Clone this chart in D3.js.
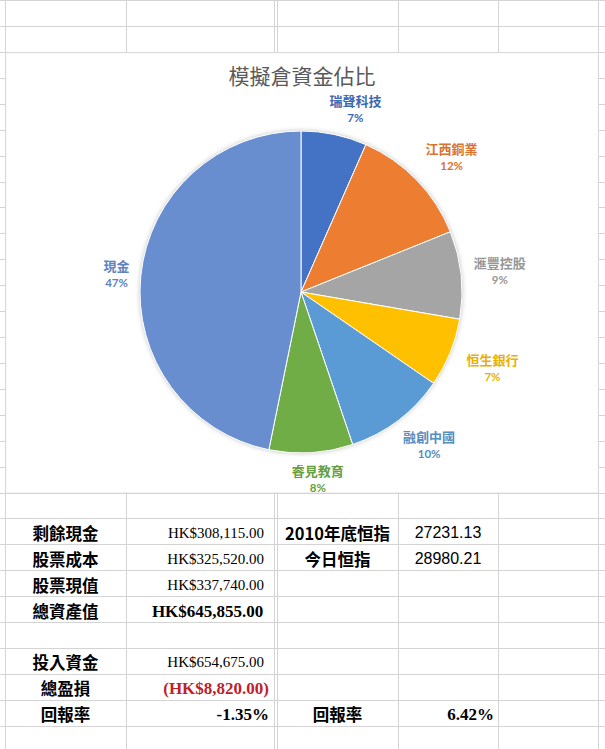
<!DOCTYPE html>
<html lang="zh-Hant">
  <head>
    <meta charset="UTF-8" />
    <title>模擬倉資金佔比</title>
    <script src="https://d3js.org/d3.v7.min.js"></script>
    <style>
      body {
        margin: 0;
        background: #fff;
      }
      svg {
        display: block;
      }
      .grid line {
        stroke: #d4d4d4;
        stroke-width: 1px;
        shape-rendering: crispEdges;
      }
      .cjk {
        font-family: "Noto Sans CJK TC", "Noto Sans CJK SC", sans-serif;
      }
      .serif {
        font-family: "Liberation Serif", "DejaVu Serif", serif;
      }
    </style>
  </head>
  <body>
    <svg id="sheet" width="605" height="749"></svg>

    <script>
      // ---------------------------------------------------------------
      // Datos / data
      // ---------------------------------------------------------------
      const categories = ["瑞聲科技", "江西銅業", "滙豐控股", "恒生銀行", "融創中國", "睿見教育", "現金"];
      const shares = [6.6, 12.3, 8.8, 6.9, 10.2, 8.4, 46.8];
      const sliceColors = ["#4472C4", "#ED7D31", "#A5A5A5", "#FFC000", "#5B9BD5", "#70AD47", "#698ED0"];

      // table below the chart (one entry per row)
      const leftLabels = ["剩餘現金", "股票成本", "股票現值", "總資產值", "", "投入資金", "總盈損", "回報率"];
      const leftValues = ["HK$308,115.00", "HK$325,520.00", "HK$337,740.00", "HK$645,855.00", "", "HK$654,675.00", "(HK$8,820.00)", "-1.35%"];
      const rightLabels = ["2010年底恒指", "今日恒指", "", "", "", "", "", "回報率"];
      const rightValues = ["27231.13", "28980.21", "", "", "", "", "", "6.42%"];

      // ---------------------------------------------------------------
      // Layout de la hoja / sheet layout
      // ---------------------------------------------------------------
      const svg = d3.select("#sheet");
      const width = +svg.attr("width");
      const height = +svg.attr("height");

      const colEdges = [5, 126, 274, 277, 398, 498, 598];
      const chartTop = 52;
      const chartBottom = 492.5;
      const rowH = (chartBottom - chartTop) / 17;

      const rowLines = d3.range(-2, 40).map((k) => chartTop + k * rowH).filter((y) => y > 0 && y < height);

      const grid = svg.append("g").attr("class", "grid");
      grid
        .selectAll(".h")
        .data(rowLines)
        .join("line")
        .attr("x1", 0)
        .attr("x2", width)
        .attr("y1", (d) => Math.round(d) + 0.5)
        .attr("y2", (d) => Math.round(d) + 0.5);
      grid
        .selectAll(".v")
        .data(colEdges)
        .join("line")
        .attr("x1", (d) => d + 0.5)
        .attr("x2", (d) => d + 0.5)
        .attr("y1", 0)
        .attr("y2", height);

      // chart area covers the cells
      svg
        .append("rect")
        .attr("x", colEdges[0] + 1)
        .attr("y", chartTop + 1)
        .attr("width", colEdges[6] - colEdges[0] - 1)
        .attr("height", chartBottom - chartTop - 1)
        .attr("fill", "#fff")
        .attr("stroke", "#e6e6e6")
        .attr("stroke-width", 0.5);

      // ---------------------------------------------------------------
      // Título / title
      // ---------------------------------------------------------------
      svg
        .append("text")
        .attr("class", "cjk")
        .attr("x", 302)
        .attr("y", 75)
        .attr("text-anchor", "middle")
        .attr("dominant-baseline", "central")
        .attr("font-size", 21)
        .attr("fill", "#595959")
        .text("模擬倉資金佔比");

      // ---------------------------------------------------------------
      // Gráfico de pastel / pie chart
      // ---------------------------------------------------------------
      const cx = 301;
      const cy = 292;
      const radius = 161;
      const total = d3.sum(shares);

      const defs = svg.append("defs");
      const shadow = defs.append("filter").attr("id", "pieShadow").attr("x", "-20%").attr("y", "-20%").attr("width", "140%").attr("height", "140%");
      shadow.append("feDropShadow").attr("dx", 0).attr("dy", 0).attr("stdDeviation", 2.5).attr("flood-color", "#000").attr("flood-opacity", 0.28);

      const pieData = d3
        .pie()
        .sort(null)
        .value((d) => d.share)(categories.map((c, i) => ({ category: c, share: shares[i], color: sliceColors[i] })));

      const arc = d3.arc().innerRadius(0).outerRadius(radius);

      const gPie = svg.append("g").attr("transform", `translate(${cx},${cy})`);

      gPie.append("circle").attr("r", radius).attr("fill", "#fff").attr("filter", "url(#pieShadow)");

      gPie
        .selectAll(".slice")
        .data(pieData)
        .join("path")
        .attr("class", "slice")
        .attr("d", arc)
        .attr("fill", (d) => d.data.color)
        .attr("stroke", "#fff")
        .attr("stroke-width", 1);

      // labels outside end, box touching a ring just beyond the pie
      function labelPos(d) {
        const mid = (d.startAngle + d.endAngle) / 2;
        const ux = Math.sin(mid);
        const uy = -Math.cos(mid);
        const hw = (d.data.category.length * 13.5) / 2;
        const hh = 16;
        const t = Math.min(Math.abs(ux) > 1e-6 ? hw / Math.abs(ux) : Infinity, Math.abs(uy) > 1e-6 ? hh / Math.abs(uy) : Infinity);
        const rr = radius + 10 + t;
        let x = rr * ux;
        const y = rr * uy;
        x += Math.sign(ux) * hw * 0.6 * Math.abs(uy) * Math.min(1, 5 * Math.abs(ux));
        return [x, y];
      }

      const labels = gPie
        .selectAll(".pie-label")
        .data(pieData)
        .join("g")
        .attr("class", "pie-label")
        .attr("transform", (d) => `translate(${labelPos(d)})`)
        .attr("fill", (d) => d3.color(d.data.color).darker(0.25).formatHex());

      labels
        .append("text")
        .attr("class", "cjk")
        .attr("y", -8)
        .attr("text-anchor", "middle")
        .attr("dominant-baseline", "central")
        .attr("font-size", 13)
        .attr("font-weight", 700)
        .text((d) => d.data.category);

      labels
        .append("text")
        .attr("y", 9)
        .attr("text-anchor", "middle")
        .attr("dominant-baseline", "central")
        .attr("font-family", "Lato, 'Open Sans', sans-serif")
        .attr("font-size", 11.5)
        .attr("font-weight", 700)
        .text((d) => `${Math.round((d.data.share / total) * 100)}%`);

      // ---------------------------------------------------------------
      // Tabla / table
      // ---------------------------------------------------------------
      const rowY = (i) => chartBottom + rowH * (i + 1.5) + 1.5;
      const boldValueRows = [3, 6, 7];
      const redValueRows = [6];

      const gTable = svg.append("g");

      // column A: labels, centred
      gTable
        .selectAll(".labA")
        .data(leftLabels)
        .join("text")
        .attr("class", "cjk")
        .attr("x", (colEdges[0] + colEdges[1]) / 2)
        .attr("y", (d, i) => rowY(i))
        .attr("text-anchor", "middle")
        .attr("dominant-baseline", "central")
        .attr("font-size", 16.5)
        .attr("font-weight", 700)
        .attr("fill", "#000")
        .text((d) => d);

      // column B: amounts, right aligned (positive currency leaves room for ")")
      const valB = gTable
        .selectAll(".valB")
        .data(leftValues)
        .join("text")
        .attr("class", "serif")
        .attr("x", colEdges[2] - 5)
        .attr("y", (d, i) => rowY(i))
        .attr("text-anchor", "end")
        .attr("dominant-baseline", "central")
        .attr("font-size", (d, i) => (boldValueRows.includes(i) ? 17 : 15))
        .attr("font-weight", (d, i) => (boldValueRows.includes(i) ? 700 : 400))
        .attr("fill", (d, i) => (redValueRows.includes(i) ? "#c0202a" : "#000"));
      valB.append("tspan").text((d) => d);
      valB
        .filter((d) => d.startsWith("HK$"))
        .append("tspan")
        .attr("fill-opacity", 0)
        .text(")");

      // column C: labels, centred
      gTable
        .selectAll(".labC")
        .data(rightLabels)
        .join("text")
        .attr("class", "cjk")
        .attr("x", (colEdges[3] + colEdges[4]) / 2)
        .attr("y", (d, i) => rowY(i))
        .attr("text-anchor", "middle")
        .attr("dominant-baseline", "central")
        .attr("font-size", 16.5)
        .attr("font-weight", 700)
        .attr("fill", "#000")
        .text((d) => d);

      // column D: index values centred, percentage right aligned
      gTable
        .selectAll(".valD")
        .data(rightValues)
        .join("text")
        .attr("x", (d) => (d.endsWith("%") ? colEdges[5] - 4 : (colEdges[4] + colEdges[5]) / 2))
        .attr("y", (d, i) => rowY(i))
        .attr("text-anchor", (d) => (d.endsWith("%") ? "end" : "middle"))
        .attr("dominant-baseline", "central")
        .attr("font-family", (d) => (d.endsWith("%") ? "'Liberation Serif', serif" : "'Liberation Sans', Arial, sans-serif"))
        .attr("font-size", (d) => (d.endsWith("%") ? 17 : 16))
        .attr("font-weight", (d) => (d.endsWith("%") ? 700 : 400))
        .attr("fill", "#000")
        .text((d) => d);
    </script>
  </body>
</html>
